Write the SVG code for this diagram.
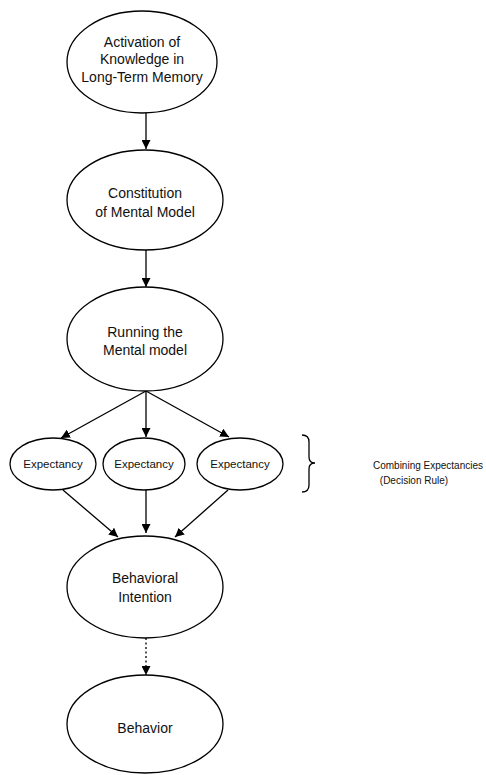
<svg xmlns="http://www.w3.org/2000/svg" width="486" height="775" viewBox="0 0 486 775">
<style>
.n{fill:#fff;stroke:#000;stroke-width:1.3}
.t{font-family:"Liberation Sans",Arial,sans-serif;font-size:14px;fill:#111;text-anchor:middle}
.s{font-size:11.5px}
.c{stroke:#000;stroke-width:1.3;fill:none}
.d{stroke-dasharray:2,2.5}
</style>
<defs>
<marker id="ah" viewBox="0 0 10 10" refX="10" refY="5" markerWidth="9" markerHeight="9" markerUnits="userSpaceOnUse" orient="auto">
<path d="M0,0 L10,5 L0,10 z" fill="#000"/>
</marker>
</defs>
<rect width="486" height="775" fill="#fff"/>
<g id="connectors">
<line class="c" x1="146" y1="113" x2="146" y2="149" marker-end="url(#ah)"/>
<line class="c" x1="146" y1="250" x2="146" y2="287" marker-end="url(#ah)"/>
<line class="c" x1="146" y1="391" x2="61" y2="438" marker-end="url(#ah)"/>
<line class="c" x1="146" y1="391" x2="146" y2="437" marker-end="url(#ah)"/>
<line class="c" x1="146" y1="391" x2="229" y2="437" marker-end="url(#ah)"/>
<line class="c" x1="63" y1="490" x2="118" y2="537" marker-end="url(#ah)"/>
<line class="c" x1="146" y1="490" x2="146" y2="533" marker-end="url(#ah)"/>
<line class="c" x1="228" y1="490" x2="175" y2="537" marker-end="url(#ah)"/>
<line class="c d" x1="146" y1="638" x2="146" y2="675" marker-end="url(#ah)"/>
</g>
<g id="activation">
<ellipse class="n" cx="142" cy="62" rx="75" ry="51"/>
<text class="t" x="142" y="47">Activation of</text>
<text class="t" x="142" y="64">Knowledge in</text>
<text class="t" x="142" y="82">Long-Term Memory</text>
</g>
<g id="constitution">
<ellipse class="n" cx="145" cy="200" rx="78" ry="50"/>
<text class="t" x="145" y="198">Constitution</text>
<text class="t" x="145" y="217">of Mental Model</text>
</g>
<g id="running">
<ellipse class="n" cx="145" cy="339" rx="78" ry="52"/>
<text class="t" x="145" y="337">Running the</text>
<text class="t" x="145" y="355">Mental model</text>
</g>
<g id="exp1">
<ellipse class="n" cx="53" cy="464" rx="43" ry="26"/>
<text class="t s" x="53" y="468">Expectancy</text>
</g>
<g id="exp2">
<ellipse class="n" cx="144" cy="464" rx="41" ry="26"/>
<text class="t s" x="144" y="468">Expectancy</text>
</g>
<g id="exp3">
<ellipse class="n" cx="240" cy="464" rx="43" ry="26"/>
<text class="t s" x="240" y="468">Expectancy</text>
</g>
<g id="combining">
<path class="c" d="M302,435 Q309,435 309,442 L309,457 Q309,463 315,463 Q309,463 309,469 L309,485 Q309,492 302,492"/>
<text class="t" style="font-size:10px" x="428" y="469">Combining Expectancies</text>
<text class="t" style="font-size:10px" x="414" y="484">(Decision Rule)</text>
</g>
<g id="intention">
<ellipse class="n" cx="145" cy="587" rx="78" ry="51"/>
<text class="t" x="145" y="583">Behavioral</text>
<text class="t" x="145" y="602">Intention</text>
</g>
<g id="behavior">
<ellipse class="n" cx="145" cy="724" rx="78" ry="49"/>
<text class="t" x="145" y="733">Behavior</text>
</g>
</svg>
